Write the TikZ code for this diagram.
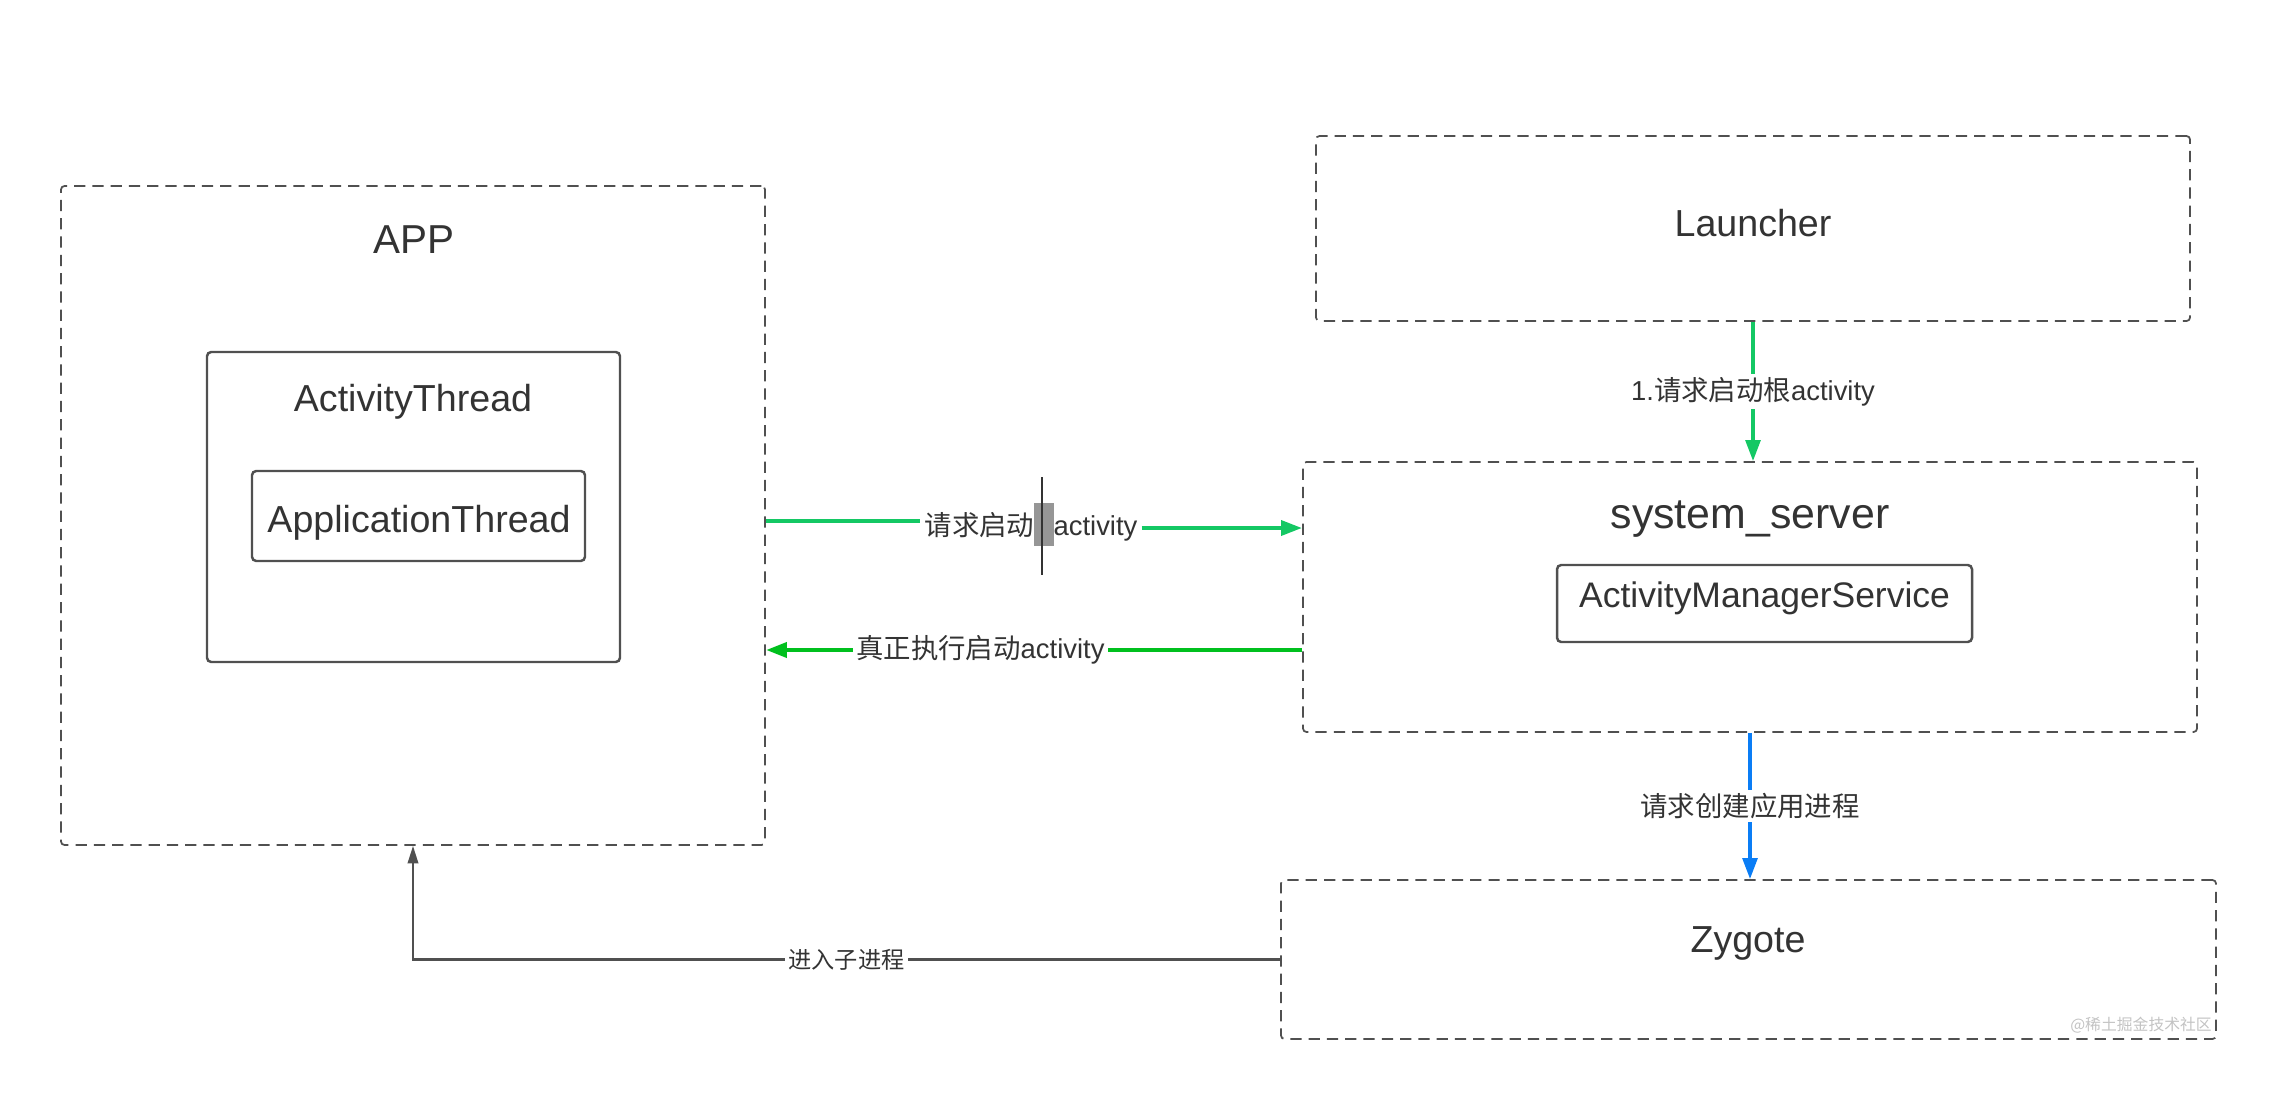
\documentclass[tikz,border=0pt]{standalone}
\usepackage{fontspec}
\usepackage{tikz}
\usetikzlibrary{arrows.meta}
\setmainfont{Liberation Sans}
\newfontfamily\cjk{Noto Sans CJK SC}
\definecolor{txtgray}{RGB}{51,51,51}
\definecolor{boxgray}{RGB}{80,80,80}
\definecolor{reqgreen}{RGB}{20,200,100}
\definecolor{rungreen}{RGB}{0,192,30}
\definecolor{zyblue}{RGB}{10,125,245}
\definecolor{blobgray}{RGB}{150,150,150}
\definecolor{wmgray}{RGB}{195,195,195}
\newcommand{\zh}[1]{{\cjk #1}}

\begin{document}
\begin{tikzpicture}[
  proc/.style={draw=boxgray, line width=0.5pt, dash pattern=on 3.2pt off 2pt, rounded corners=1pt, inner sep=0pt},
  inbox/.style={draw=boxgray, line width=0.7pt, rounded corners=1.2pt, inner sep=0pt},
  title/.style={text=txtgray, font=\fontsize{10.7}{12}\selectfont},
  msg/.style={fill=white, text=txtgray, inner sep=1pt, font=\fontsize{7.8}{9}\selectfont},
  tip/.style={-{Triangle[length=6pt,width=4.2pt]}}
]
  \useasboundingbox (0,0) rectangle (22.95,-11.17);
  \node[proc, minimum width=7.04cm, minimum height=6.59cm] (app) at (4.13,-5.155) {};
  \node[title, font=\fontsize{11.5}{13}\selectfont] (apptitle) at (4.14,-2.40) {APP};
  \node[inbox, minimum width=4.13cm, minimum height=3.10cm] (at) at (4.135,-5.07) {};
  \node[title] (attitle) at (4.13,-4.02) {ActivityThread};
  \node[inbox, minimum width=3.33cm, minimum height=0.90cm] (apt) at (4.185,-5.16) {};
  \node[title] (apttitle) at (4.19,-5.23) {ApplicationThread};

  \node[proc, minimum width=8.74cm, minimum height=1.85cm] (launcher) at (17.53,-2.285) {};
  \node[title] (launchertitle) at (17.53,-2.23) {Launcher};
  \node[proc, minimum width=8.94cm, minimum height=2.70cm] (sys) at (17.50,-5.97) {};
  \node[title, font=\fontsize{12.2}{14}\selectfont] (systitle) at (17.50,-5.19) {system\_server};
  \node[inbox, minimum width=4.15cm, minimum height=0.77cm] (ams) at (17.645,-6.035) {};
  \node[title, font=\fontsize{10.1}{12}\selectfont] (amstitle) at (17.645,-5.98) {ActivityManagerService};
  \node[proc, minimum width=9.35cm, minimum height=1.59cm] (zygote) at (17.485,-9.595) {};
  \node[title] (zygotetitle) at (17.48,-9.43) {Zygote};

  \draw[reqgreen, line width=1pt, tip] (launcher.south) -- (launcher.south |- sys.north)
    node[msg, midway] {1.\zh{请求启动根}activity};
  \node[msg] (reqlbl) at (10.31,-5.245) {\zh{请求启动}\textcolor{blobgray}{\rule[-3pt]{5.5pt}{12pt}}activity};
  \draw[reqgreen, line width=1.2pt] (app.east |- 0,-5.21) -- (reqlbl.west |- 0,-5.21);
  \draw[reqgreen, line width=1.2pt, tip] (reqlbl.east |- 0,-5.28) -- (sys.west |- 0,-5.28);
  \draw[txtgray, line width=0.3pt] (10.42,-4.77) -- (10.42,-5.75);
  \draw[rungreen, line width=1.3pt, tip] (sys.west |- 0,-6.50) -- (app.east |- 0,-6.50)
    node[msg, pos=0.6] {\zh{真正执行启动}activity};
  \draw[zyblue, line width=1pt, tip] (sys.south) -- (sys.south |- zygote.north)
    node[msg, midway] {\zh{请求创建应用进程}};
  \draw[boxgray, line width=0.6pt, -{Triangle[length=5pt,width=3pt]}] (zygote.west) -| (app.south)
    node[msg, pos=0.25, font=\fontsize{6.6}{8}\selectfont] {\zh{进入子进程}};

  \node[text=wmgray, font=\cjk\fontsize{4.5}{5}\selectfont] (mark) at (21.41,-10.25) {@稀土掘金技术社区};
\end{tikzpicture}
\end{document}
